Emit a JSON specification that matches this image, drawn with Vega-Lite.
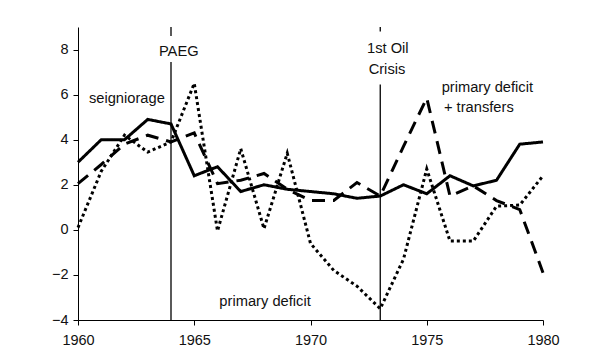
{
  "$schema": "https://vega.github.io/schema/vega-lite/v6.json",
  "autosize": "none",
  "padding": {"left": 78, "top": 27, "right": 57, "bottom": 40},
  "width": 465,
  "height": 293,
  "background": "white",
  "config": {
    "view": {"stroke": null},
    "font": "Liberation Sans",
    "axis": {
      "grid": false,
      "domainColor": "black",
      "tickColor": "black",
      "labelColor": "#111",
      "labelFont": "Liberation Sans",
      "labelFontSize": 14.5,
      "tickSize": 5,
      "domainWidth": 1,
      "tickWidth": 1,
      "title": null
    }
  },
  "datasets": {
    "series": [
      {"year": 1960, "series": "seigniorage", "value": 3.0},
      {"year": 1961, "series": "seigniorage", "value": 4.0},
      {"year": 1962, "series": "seigniorage", "value": 4.0},
      {"year": 1963, "series": "seigniorage", "value": 4.9},
      {"year": 1964, "series": "seigniorage", "value": 4.7},
      {"year": 1965, "series": "seigniorage", "value": 2.4},
      {"year": 1966, "series": "seigniorage", "value": 2.8},
      {"year": 1967, "series": "seigniorage", "value": 1.7},
      {"year": 1968, "series": "seigniorage", "value": 2.0},
      {"year": 1969, "series": "seigniorage", "value": 1.8},
      {"year": 1970, "series": "seigniorage", "value": 1.7},
      {"year": 1971, "series": "seigniorage", "value": 1.6},
      {"year": 1972, "series": "seigniorage", "value": 1.4},
      {"year": 1973, "series": "seigniorage", "value": 1.5},
      {"year": 1974, "series": "seigniorage", "value": 2.0},
      {"year": 1975, "series": "seigniorage", "value": 1.6},
      {"year": 1976, "series": "seigniorage", "value": 2.4},
      {"year": 1977, "series": "seigniorage", "value": 1.95},
      {"year": 1978, "series": "seigniorage", "value": 2.2},
      {"year": 1979, "series": "seigniorage", "value": 3.8},
      {"year": 1980, "series": "seigniorage", "value": 3.9},

      {"year": 1960, "series": "primary deficit + transfers", "value": 2.05},
      {"year": 1961, "series": "primary deficit + transfers", "value": 2.9},
      {"year": 1962, "series": "primary deficit + transfers", "value": 3.8},
      {"year": 1963, "series": "primary deficit + transfers", "value": 4.2},
      {"year": 1964, "series": "primary deficit + transfers", "value": 3.9},
      {"year": 1965, "series": "primary deficit + transfers", "value": 4.3},
      {"year": 1966, "series": "primary deficit + transfers", "value": 2.05},
      {"year": 1967, "series": "primary deficit + transfers", "value": 2.2},
      {"year": 1968, "series": "primary deficit + transfers", "value": 2.5},
      {"year": 1969, "series": "primary deficit + transfers", "value": 1.8},
      {"year": 1970, "series": "primary deficit + transfers", "value": 1.3},
      {"year": 1971, "series": "primary deficit + transfers", "value": 1.3},
      {"year": 1972, "series": "primary deficit + transfers", "value": 2.1},
      {"year": 1973, "series": "primary deficit + transfers", "value": 1.5},
      {"year": 1974, "series": "primary deficit + transfers", "value": 3.7},
      {"year": 1975, "series": "primary deficit + transfers", "value": 5.85},
      {"year": 1976, "series": "primary deficit + transfers", "value": 1.5},
      {"year": 1977, "series": "primary deficit + transfers", "value": 1.95},
      {"year": 1978, "series": "primary deficit + transfers", "value": 1.3},
      {"year": 1979, "series": "primary deficit + transfers", "value": 0.9},
      {"year": 1980, "series": "primary deficit + transfers", "value": -1.9},

      {"year": 1960, "series": "primary deficit", "value": 0.1},
      {"year": 1961, "series": "primary deficit", "value": 2.6},
      {"year": 1962, "series": "primary deficit", "value": 4.2},
      {"year": 1963, "series": "primary deficit", "value": 3.45},
      {"year": 1964, "series": "primary deficit", "value": 3.9},
      {"year": 1965, "series": "primary deficit", "value": 6.5},
      {"year": 1966, "series": "primary deficit", "value": -0.05},
      {"year": 1967, "series": "primary deficit", "value": 3.6},
      {"year": 1968, "series": "primary deficit", "value": 0.05},
      {"year": 1969, "series": "primary deficit", "value": 3.4},
      {"year": 1970, "series": "primary deficit", "value": -0.6},
      {"year": 1971, "series": "primary deficit", "value": -1.8},
      {"year": 1972, "series": "primary deficit", "value": -2.5},
      {"year": 1973, "series": "primary deficit", "value": -3.5},
      {"year": 1974, "series": "primary deficit", "value": -1.3},
      {"year": 1975, "series": "primary deficit", "value": 2.7},
      {"year": 1976, "series": "primary deficit", "value": -0.5},
      {"year": 1977, "series": "primary deficit", "value": -0.5},
      {"year": 1978, "series": "primary deficit", "value": 1.05},
      {"year": 1979, "series": "primary deficit", "value": 1.1},
      {"year": 1980, "series": "primary deficit", "value": 2.4}
    ],
    "events": [
      {"year": 1964, "top": 9.0, "bottom": 8.6},
      {"year": 1964, "top": 7.45, "bottom": -4},
      {"year": 1973, "top": 9.0, "bottom": 8.8},
      {"year": 1973, "top": 6.45, "bottom": -4}
    ],
    "labels": [
      {"text": "seigniorage", "year": 1960.47, "value": 5.64},
      {"text": "PAEG", "year": 1963.48, "value": 7.7},
      {"text": "1st Oil", "year": 1972.43, "value": 7.85},
      {"text": "Crisis", "year": 1972.5, "value": 6.93},
      {"text": "primary deficit", "year": 1975.64, "value": 6.1},
      {"text": "+ transfers", "year": 1975.74, "value": 5.21},
      {"text": "primary deficit", "year": 1966.08, "value": -3.36}
    ]
  },
  "layer": [
    {
      "mark": {"type": "rule", "color": "#555", "strokeWidth": 1},
      "encoding": {
        "y": {"datum": 0, "type": "quantitative", "scale": {"domain": [-4, 9]}}
      }
    },
    {
      "data": {"name": "events"},
      "mark": {"type": "rule", "color": "black", "strokeWidth": 1.3},
      "encoding": {
        "x": {"field": "year", "type": "quantitative"},
        "y": {"field": "top", "type": "quantitative"},
        "y2": {"field": "bottom"}
      }
    },
    {
      "data": {"name": "series"},
      "mark": {"type": "line", "color": "black", "strokeWidth": 3, "strokeJoin": "miter"},
      "encoding": {
        "x": {
          "field": "year", "type": "quantitative",
          "scale": {"domain": [1960, 1980], "nice": false, "zero": false},
          "axis": {"values": [1960, 1965, 1970, 1975, 1980], "format": "d", "labelPadding": 8, "labelFlush": false}
        },
        "y": {
          "field": "value", "type": "quantitative",
          "scale": {"domain": [-4, 9], "nice": false},
          "axis": {"values": [-4, -2, 0, 2, 4, 6, 8], "labelPadding": 5}
        },
        "strokeDash": {
          "field": "series", "type": "nominal",
          "scale": {
            "domain": ["seigniorage", "primary deficit + transfers", "primary deficit"],
            "range": [[1, 0], [13, 8], [3, 3]]
          },
          "legend": null
        },
        "order": {"field": "year", "type": "quantitative"}
      }
    },
    {
      "data": {"name": "labels"},
      "mark": {"type": "text", "align": "left", "baseline": "alphabetic", "fontSize": 14.7, "font": "Liberation Sans", "color": "#111"},
      "encoding": {
        "x": {"field": "year", "type": "quantitative"},
        "y": {"field": "value", "type": "quantitative"},
        "text": {"field": "text", "type": "nominal"}
      }
    }
  ]
}
